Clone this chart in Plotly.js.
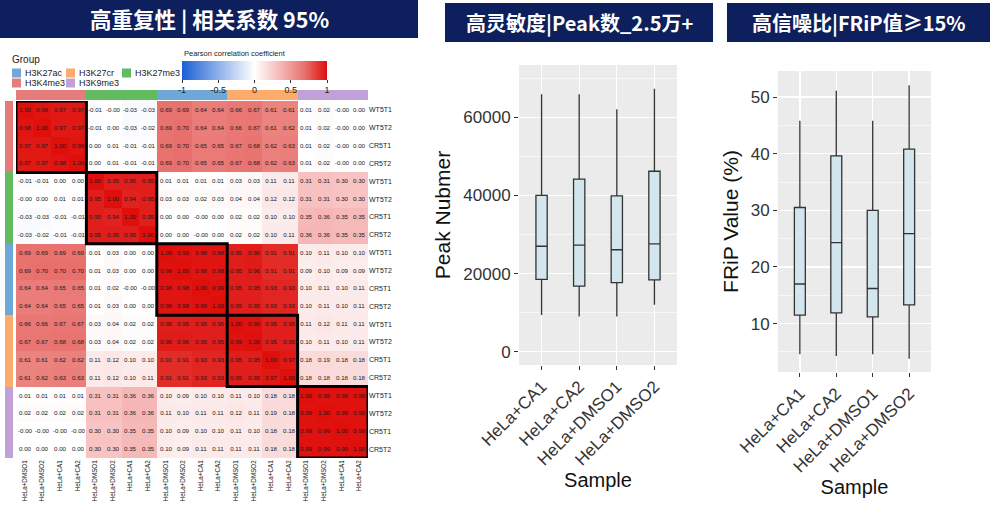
<!DOCTYPE html>
<html><head><meta charset="utf-8">
<script src="https://cdn.plot.ly/plotly-3.0.1.min.js"></script>
<style>html,body{margin:0;padding:0;background:#fff}#chart{width:1000px;height:509px}</style>
</head><body><div id="chart"></div>
<script>
// ---------- DATA ----------
const histoneOrder = ['H3K4me3','H3K27me3','H3K27ac','H3K27cr','H3K9me3']; // block order in heatmap
const legendGroups = ['H3K27ac','H3K27cr','H3K27me3','H3K4me3','H3K9me3'];
const groupColors = {H3K27ac:'#6fa8d6', H3K27cr:'#fcab6a', H3K27me3:'#62bb61', H3K4me3:'#e47c7c', H3K9me3:'#c0a2d8'};
const rowSamples = ['WT5T1','WT5T2','CR5T1','CR5T2'];
const colSamples = ['HeLa+DMSO1','HeLa+DMSO2','HeLa+CA1','HeLa+CA2'];
const corr = [
 [1.00,0.98,0.97,0.97,-0.01,-0.002,-0.03,-0.03,0.69,0.69,0.64,0.64,0.66,0.67,0.61,0.61,0.01,0.02,-0.002,0.00],
 [0.98,1.00,0.97,0.97,-0.01,0.00,-0.03,-0.02,0.69,0.70,0.64,0.64,0.66,0.67,0.61,0.62,0.01,0.02,-0.002,0.00],
 [0.97,0.97,1.00,0.98,0.00,0.01,-0.01,-0.01,0.69,0.70,0.65,0.65,0.67,0.68,0.62,0.63,0.01,0.02,-0.002,0.00],
 [0.97,0.97,0.98,1.00,0.00,0.01,-0.01,-0.01,0.69,0.70,0.65,0.65,0.67,0.68,0.62,0.63,0.01,0.02,-0.002,0.00],
 [-0.01,-0.01,0.00,0.00,1.00,0.95,0.95,0.95,0.01,0.01,0.01,0.01,0.03,0.03,0.11,0.11,0.31,0.31,0.30,0.30],
 [-0.002,0.00,0.01,0.01,0.95,1.00,0.94,0.95,0.03,0.03,0.02,0.03,0.04,0.04,0.12,0.12,0.31,0.31,0.30,0.30],
 [-0.03,-0.03,-0.01,-0.01,0.95,0.94,1.00,0.95,0.00,0.00,-0.002,0.00,0.02,0.02,0.10,0.10,0.35,0.36,0.35,0.35],
 [-0.03,-0.02,-0.01,-0.01,0.95,0.95,0.95,1.00,0.00,0.00,-0.002,0.00,0.02,0.02,0.10,0.11,0.36,0.36,0.35,0.35],
 [0.69,0.69,0.69,0.69,0.01,0.03,0.00,0.00,1.00,0.99,0.98,0.98,0.95,0.96,0.91,0.91,0.10,0.11,0.10,0.10],
 [0.69,0.70,0.70,0.70,0.01,0.03,0.00,0.00,0.99,1.00,0.98,0.98,0.95,0.96,0.91,0.91,0.09,0.10,0.09,0.09],
 [0.64,0.64,0.65,0.65,0.01,0.02,-0.002,-0.002,0.98,0.98,1.00,0.99,0.95,0.95,0.93,0.93,0.10,0.11,0.10,0.11],
 [0.64,0.64,0.65,0.65,0.01,0.03,0.00,0.00,0.98,0.98,0.99,1.00,0.95,0.95,0.93,0.93,0.10,0.11,0.10,0.11],
 [0.66,0.66,0.67,0.67,0.03,0.04,0.02,0.02,0.95,0.95,0.95,0.95,1.00,0.99,0.95,0.95,0.11,0.12,0.11,0.11],
 [0.67,0.67,0.68,0.68,0.03,0.04,0.02,0.02,0.96,0.96,0.95,0.95,0.99,1.00,0.95,0.95,0.10,0.11,0.10,0.11],
 [0.61,0.61,0.62,0.62,0.11,0.12,0.10,0.10,0.91,0.91,0.93,0.93,0.95,0.95,1.00,0.97,0.18,0.19,0.18,0.18],
 [0.61,0.62,0.63,0.63,0.11,0.12,0.10,0.11,0.91,0.91,0.93,0.93,0.95,0.95,0.97,1.00,0.18,0.18,0.18,0.18],
 [0.01,0.01,0.01,0.01,0.31,0.31,0.36,0.36,0.10,0.09,0.10,0.10,0.11,0.10,0.18,0.18,1.00,0.99,0.99,0.99],
 [0.02,0.02,0.02,0.02,0.31,0.31,0.36,0.36,0.11,0.10,0.11,0.11,0.12,0.11,0.19,0.18,0.99,1.00,0.99,0.99],
 [-0.002,-0.002,-0.002,-0.002,0.30,0.30,0.35,0.35,0.10,0.09,0.10,0.10,0.11,0.10,0.18,0.18,0.99,0.99,1.00,0.99],
 [0.00,0.00,0.00,0.00,0.30,0.30,0.35,0.35,0.10,0.09,0.11,0.11,0.11,0.11,0.18,0.18,0.99,0.99,0.99,1.00]
];
const boxSamples = ['HeLa+CA1','HeLa+CA2','HeLa+DMSO1','HeLa+DMSO2'];
const peakLow    = [9400, 9000, 9000, 12000];
const peakQ1     = [18500, 16800, 17700, 18400];
const peakMedian = [27000, 27300, 26100, 27600];
const peakQ3     = [40000, 44200, 39900, 46200];
const peakHigh   = [65900, 65900, 62100, 67300];
const fripLow    = [4.6, 4.3, 4.6, 3.8];
const fripQ1     = [11.5, 11.9, 11.2, 13.3];
const fripMedian = [17.0, 24.3, 16.2, 25.9];
const fripQ3     = [30.5, 39.6, 30.0, 40.8];
const fripHigh   = [45.8, 51.1, 45.8, 52.1];
const titles = ['高重复性 | 相关系数 95%', '高灵敏度|Peak数_2.5万+', '高信噪比|FRiP值≥15%'];

// ---------- BUILD ----------
const W = 1000, H = 509;
const px = v => v / W, py = v => 1 - v / H;
const FONT = 'Liberation Sans, Arial, sans-serif';
const CJK = 'Noto Sans CJK SC, sans-serif';
const n = corr.length, bs = rowSamples.length;
const idx = corr.map((_, i) => i);
const rowLabels = [], colLabels = [], groupIdx = [];
histoneOrder.forEach((g, gi) => { rowSamples.forEach(s => rowLabels.push(s)); colSamples.forEach(s => colLabels.push(s)); rowSamples.forEach(() => groupIdx.push(gi)); });
const txt = corr.map(r => r.map(v => v.toFixed(2)));

const ng = histoneOrder.length;
const discrete = [];
histoneOrder.forEach((g, i) => { discrete.push([i / ng, groupColors[g]]); discrete.push([(i + 1) / ng, groupColors[g]]); });

const corrScale = [[0,'#1d5fd6'],[0.25,'#8db0e9'],[0.5,'#ffffff'],[0.65,'#f7c3c3'],[0.845,'#e8726e'],[1,'#df0f0c']];

const traces = [
 {type:'heatmap', z:corr, x:idx, y:idx, xaxis:'x', yaxis:'y', zmin:-1, zmax:1, colorscale:corrScale,
  text:txt, texttemplate:'%{text}', textfont:{size:6.2, color:'#1a1a1a', family:FONT}, hoverinfo:'skip',
  colorbar:{orientation:'h', x:px(182), xanchor:'left', yref:'paper', y:py(61), yanchor:'top', len:145, lenmode:'pixels',
   thickness:19, thicknessmode:'pixels', outlinewidth:0, xpad:0, ypad:0,
   tickvals:[-1,-0.5,0,0.5,1], ticktext:['-1','-0.5','0','0.5','1'], ticks:'outside', ticklen:3, tickcolor:'#333',
   tickfont:{size:9, family:FONT, color:'#222'}}},
 {type:'heatmap', z:[groupIdx.map(v => v + 0.5)], x:idx, y:[0], xaxis:'x', yaxis:'y2', zmin:0, zmax:ng, colorscale:discrete,
  showscale:false, hoverinfo:'skip'},
 {type:'heatmap', z:groupIdx.map(v => [v + 0.5]), x:[0], y:idx, xaxis:'x2', yaxis:'y', zmin:0, zmax:ng, colorscale:discrete,
  showscale:false, hoverinfo:'skip'}
];

const boxStyle = {fillcolor:'#d3e6ed', line:{color:'#333', width:1.3}, width:0.3, whiskerwidth:0, boxpoints:false, hoverinfo:'skip', showlegend:false};
traces.push(Object.assign({type:'box', x:boxSamples, q1:peakQ1, median:peakMedian, q3:peakQ3, lowerfence:peakLow, upperfence:peakHigh, xaxis:'x3', yaxis:'y3'}, boxStyle));
traces.push(Object.assign({type:'box', x:boxSamples, q1:fripQ1, median:fripMedian, q3:fripQ3, lowerfence:fripLow, upperfence:fripHigh, xaxis:'x4', yaxis:'y4'}, boxStyle));

const shapes = [], annotations = [];
histoneOrder.forEach((g, gi) => {
  shapes.push({type:'rect', xref:'x', yref:'y', x0:gi*bs-0.5, x1:gi*bs+bs-0.5, y0:gi*bs-0.5, y1:gi*bs+bs-0.5, line:{color:'#000', width:3}, fillcolor:'rgba(0,0,0,0)', layer:'above'});
});
[['x3','y3'],['x4','y4']].forEach(([xa, ya]) => shapes.push({type:'rect', xref:xa+' domain', yref:ya+' domain', x0:0, x1:1, y0:0, y1:1, fillcolor:'#ebebeb', line:{width:0}, layer:'below'}));
const banners = [[0, 418, 0, 38, 21.5], [445, 713, 3, 42, 20], [727, 990, 3, 42, 20]];
banners.forEach((b, i) => {
  shapes.push({type:'rect', xref:'paper', yref:'paper', x0:px(b[0]), x1:px(b[1]), y0:py(b[3]), y1:py(b[2]), fillcolor:'#0d1f5c', line:{width:0}});
  annotations.push({xref:'paper', yref:'paper', x:px((b[0]+b[1])/2), y:py((b[2]+b[3])/2), text:'<b>'+titles[i]+'</b>', showarrow:false, xanchor:'center', yanchor:'middle', font:{size:b[4], color:'#fff', family:CJK}});
});
annotations.push({xref:'paper', yref:'paper', x:px(182), y:py(53), text:'Pearson correlation coefficient', showarrow:false, xanchor:'left', yanchor:'middle', font:{size:7.5, family:FONT, color:'#222'}});
annotations.push({xref:'paper', yref:'paper', x:px(10), y:py(59), text:'Group', showarrow:false, xanchor:'left', yanchor:'middle', font:{size:10, family:FONT, color:'#222'}});
const legX = [12, 66, 122], legY = [73, 83];
legendGroups.forEach((g, i) => {
  const cx = legX[i % 3], cy = legY[Math.floor(i / 3)];
  shapes.push({type:'rect', xref:'paper', yref:'paper', x0:px(cx), x1:px(cx+9), y0:py(cy+4.5), y1:py(cy-4.5), fillcolor:groupColors[g], line:{width:0}});
  annotations.push({xref:'paper', yref:'paper', x:px(cx+11), y:py(cy), text:g, showarrow:false, xanchor:'left', yanchor:'middle', font:{size:9, family:FONT, color:'#222'}});
});

const axTick = {size:17, family:FONT, color:'#333'};
const titleFont = {size:21, family:FONT, color:'#111'};
const xBase = {type:'category', range:[-0.6, 3.6], tickangle:-45, tickfont:axTick,
    ticks:'outside', ticklen:4, tickcolor:'#333', showgrid:true, gridcolor:'#fff', gridwidth:1.3, zeroline:false,
    title:{text:'Sample', font:{size:20, family:FONT, color:'#111'}, standoff:2}};
const yBase = {tickfont:axTick, ticks:'outside', ticklen:4, tickcolor:'#333', showgrid:true, gridcolor:'#fff', gridwidth:1.3, zeroline:false};
const layout = {
  width:W, height:H, margin:{l:0, r:0, t:0, b:0}, paper_bgcolor:'#fff', plot_bgcolor:'rgba(0,0,0,0)', showlegend:false,
  font:{family:FONT},
  xaxis:{domain:[px(16), px(368)], range:[-0.5, n-0.5], anchor:'y', tickvals:idx, ticktext:colLabels, tickangle:-90,
    tickfont:{size:6.3, family:FONT, color:'#222'}, showgrid:false, zeroline:false, ticks:'', showline:false},
  yaxis:{domain:[py(458), py(101)], range:[n-0.5, -0.5], anchor:'x', side:'right', tickvals:idx, ticktext:rowLabels,
    tickfont:{size:7, family:FONT, color:'#222'}, showgrid:false, zeroline:false, ticks:''},
  yaxis2:{domain:[py(100), py(90)], anchor:'x', range:[-0.5, 0.5], showticklabels:false, showgrid:false, zeroline:false, ticks:''},
  xaxis2:{domain:[px(5), px(13)], anchor:'y', range:[-0.5, 0.5], showticklabels:false, showgrid:false, zeroline:false, ticks:''},
  xaxis3:Object.assign({domain:[px(519), px(677)], anchor:'y3'}, xBase),
  yaxis3:Object.assign({domain:[py(365), py(65)], anchor:'x3', range:[-3400, 73400], tickvals:[0,20000,40000,60000], ticktext:['0','20000','40000','60000'],
    minor:{tickvals:[10000,30000,50000,70000], showgrid:true, gridcolor:'#fff', gridwidth:0.6, ticks:''},
    title:{text:'Peak Nubmer', font:titleFont, standoff:6}}, yBase),
  xaxis4:Object.assign({domain:[px(778), px(931)], anchor:'y4'}, xBase),
  yaxis4:Object.assign({domain:[py(372), py(71)], anchor:'x4', range:[1.46, 54.6], tickvals:[10,20,30,40,50], ticktext:['10','20','30','40','50'],
    minor:{tickvals:[5,15,25,35,45], showgrid:true, gridcolor:'#fff', gridwidth:0.6, ticks:''},
    title:{text:'FRiP Value (%)', font:titleFont, standoff:6}}, yBase),
  shapes:shapes, annotations:annotations
};
Plotly.newPlot('chart', traces, layout, {staticPlot:true, displayModeBar:false});
</script></body></html>
